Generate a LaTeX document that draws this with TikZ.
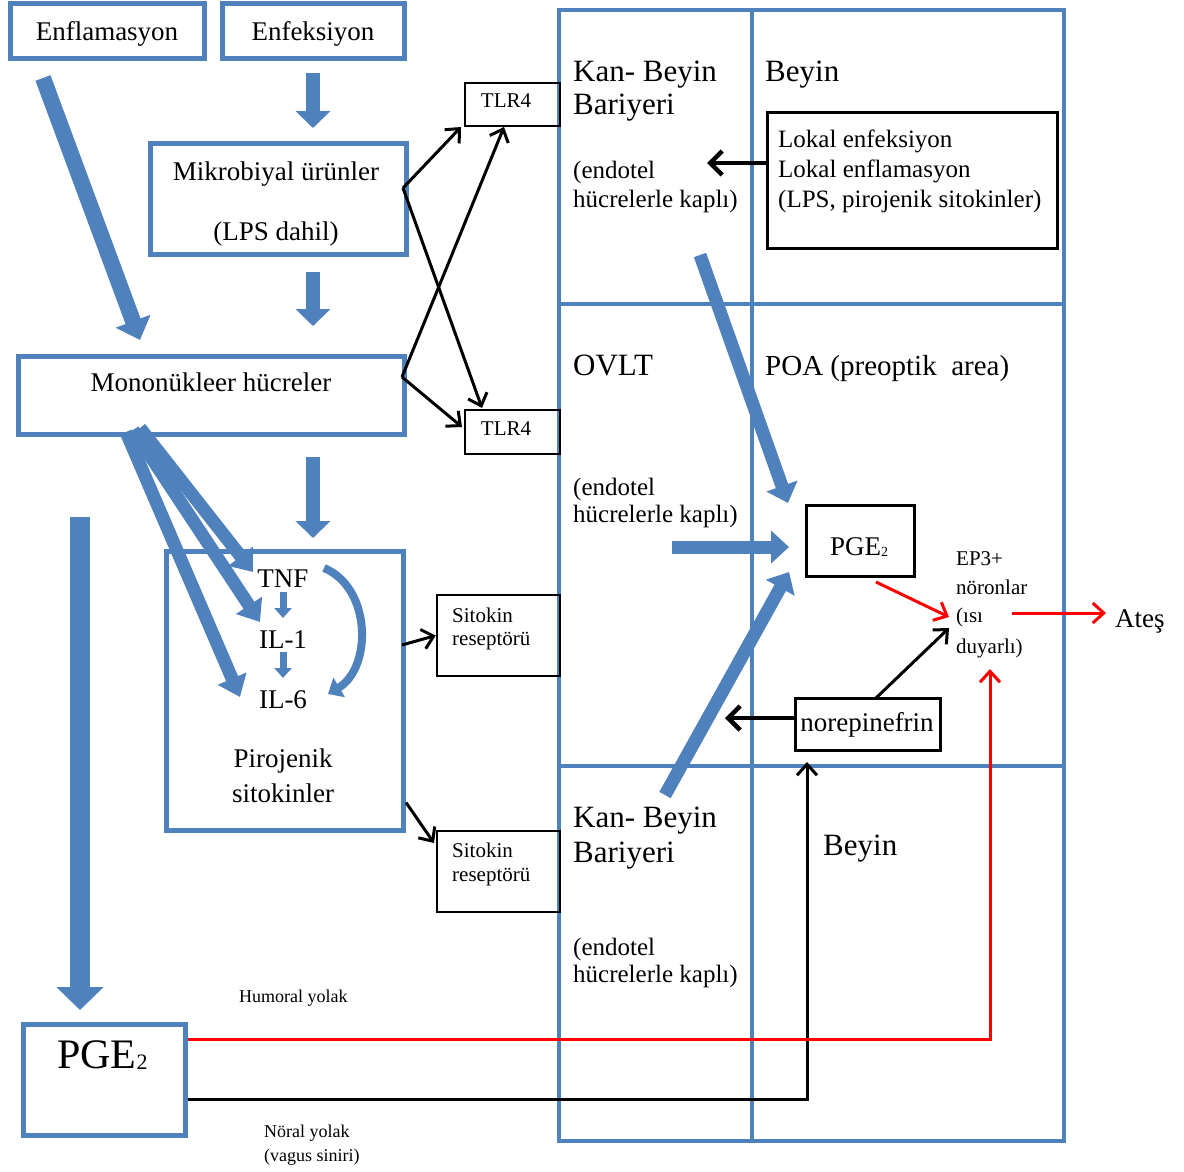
\documentclass[tikz,border=0pt]{standalone}
\usepackage{fontspec}
\setmainfont{Liberation Serif}
\usetikzlibrary{arrows.meta}
\definecolor{wblue}{HTML}{4F81BD}
\definecolor{wred}{HTML}{FF0000}
\newcommand\fsBig{\fontsize{31}{36}\selectfont}
\newcommand\fsPoa{\fontsize{29}{34}\selectfont}
\newcommand\fsM{\fontsize{27}{32}\selectfont}
\newcommand\fsS{\fontsize{25}{30}\selectfont}
\newcommand\fsT{\fontsize{21}{25}\selectfont}
\newcommand\fsX{\fontsize{18}{22}\selectfont}
\newcommand\fsHuge{\fontsize{42}{48}\selectfont}
\newcommand\subtwo[1]{\raisebox{-1pt}{\fontsize{#1}{#1}\selectfont 2}}
\begin{document}
\begin{tikzpicture}[x=1pt,y=-1pt,
  bluebox/.style={draw=wblue, line width=5pt, inner sep=0pt},
  blackbox/.style={draw=black, line width=2.5pt, inner sep=0pt},
  txt/.style={inner sep=0pt, anchor=base},
  ltxt/.style={inner sep=0pt, anchor=base west},
  bigarrow/.style={draw=wblue, line width=15pt, -{Triangle[length=20pt,width=36pt]}},
  gridarrow/.style={draw=wblue, line width=13pt, -{Triangle[length=18pt,width=32pt]}},
  midarrow/.style={draw=wblue, line width=13pt, -{Triangle[length=20pt,width=30pt]}},
  tinyarrow/.style={draw=wblue, line width=7pt, -{Triangle[length=10pt,width=17pt]}},
  longarrow/.style={draw=wblue, line width=20pt, -{Triangle[length=23pt,width=46pt]}},
  blk/.style={draw=black, line width=3pt, -{Straight Barb[length=11pt,width=20pt]}},
  blkthick/.style={draw=black, line width=4.5pt, -{Straight Barb[length=12pt,width=24pt]}},
  redarr/.style={draw=wred, line width=3pt, -{Straight Barb[length=11pt,width=20pt]}}
]
\useasboundingbox (0,0) rectangle (1184,1171);
\fill[white] (0,0) rectangle (1184,1171);

% ---------- grid ----------
\draw[wblue, line width=4pt] (559,10) rectangle (1064,1141);
\draw[wblue, line width=4pt] (752,10) -- (752,1141);
\draw[wblue, line width=4pt] (559,304) -- (1064,304);
\draw[wblue, line width=4pt] (559,766) -- (1064,766);

% ---------- blue boxes ----------
\node[bluebox, minimum width=194pt, minimum height=55pt] (enfl) at (107,30.5) {};
\node[txt, font=\fsM] (enflt) at (107,40) {Enflamasyon};
\node[bluebox, minimum width=182pt, minimum height=55pt] (enfk) at (313,30.5) {};
\node[txt, font=\fsM] (enfkt) at (313,40) {Enfeksiyon};
\node[bluebox, minimum width=256pt, minimum height=111pt] (mik) at (278,198.5) {};
\node[txt, font=\fsM] (mikt1) at (276,180) {Mikrobiyal ürünler};
\node[txt, font=\fsM] (mikt2) at (276,240) {(LPS dahil)};
\node[bluebox, minimum width=386pt, minimum height=78pt] (mono) at (211,395) {};
\node[txt, font=\fsM] (monot) at (211,391) {Mononükleer hücreler};
\node[bluebox, minimum width=237pt, minimum height=279pt] (piro) at (285,690.5) {};
\node[txt, font=\fsM] (tnf) at (283,587) {TNF};
\node[txt, font=\fsM] (il1) at (283,648) {IL-1};
\node[txt, font=\fsM] (il6) at (283,708) {IL-6};
\node[txt, font=\fsM] (pirot1) at (283,767) {Pirojenik};
\node[txt, font=\fsM] (pirot2) at (283,802) {sitokinler};
\node[bluebox, minimum width=162pt, minimum height=111pt] (pgeL) at (104.5,1079.5) {};
\node[ltxt, font=\fsHuge] (pgeLt) at (57,1068) {PGE\subtwo{22}};

% ---------- black boxes ----------
\node[blackbox, minimum width=95pt, minimum height=43pt] (tlrA) at (512.5,104.5) {};
\node[txt, font=\fsT] (tlrAt) at (506,107) {TLR4};
\node[blackbox, minimum width=95pt, minimum height=44pt] (tlrB) at (512.5,432) {};
\node[txt, font=\fsT] (tlrBt) at (506,435) {TLR4};
\node[blackbox, minimum width=123pt, minimum height=81pt] (sitA) at (498.5,635.5) {};
\node[ltxt, font=\fsT] (sitAt1) at (452,622) {Sitokin};
\node[ltxt, font=\fsT] (sitAt2) at (452,645) {reseptörü};
\node[blackbox, minimum width=123pt, minimum height=81pt] (sitB) at (498.5,871.5) {};
\node[ltxt, font=\fsT] (sitBt1) at (452,857) {Sitokin};
\node[ltxt, font=\fsT] (sitBt2) at (452,881) {reseptörü};
\node[blackbox, line width=3pt, minimum width=290pt, minimum height=136pt] (lokal) at (912,180) {};
\node[ltxt, font=\fsS] (lok1) at (778,147) {Lokal enfeksiyon};
\node[ltxt, font=\fsS] (lok2) at (778,177) {Lokal enflamasyon};
\node[ltxt, font=\fsS] (lok3) at (778,207) {(LPS, pirojenik sitokinler)};
\node[blackbox, line width=3pt, minimum width=108pt, minimum height=71pt] (pgeC) at (860,541) {};
\node[txt, font=\fsM] (pgeCt) at (859,555) {PGE\subtwo{14}};
\node[blackbox, line width=3pt, minimum width=145pt, minimum height=52pt] (nore) at (867.5,724) {};
\node[txt, font=\fsM] (noret) at (867,731) {norepinefrin};

% ---------- grid texts ----------
\node[ltxt, font=\fsBig] (kb1a) at (573,81) {Kan- Beyin};
\node[ltxt, font=\fsBig] (kb1b) at (573,114) {Bariyeri};
\node[ltxt, font=\fsS] (kb1c) at (573,178) {(endotel};
\node[ltxt, font=\fsS] (kb1d) at (573,207) {hücrelerle kaplı)};
\node[ltxt, font=\fsBig] (beyin1) at (765,81) {Beyin};
\node[ltxt, font=\fsBig] (ovlt) at (573,375) {OVLT};
\node[ltxt, font=\fsPoa] (poa) at (765,375) {POA (preoptik \ area)};
\node[ltxt, font=\fsS] (ov1) at (573,495) {(endotel};
\node[ltxt, font=\fsS] (ov2) at (573,522) {hücrelerle kaplı)};
\node[ltxt, font=\fsT] (ep1) at (956,565) {EP3+};
\node[ltxt, font=\fsT] (ep2) at (956,594) {nöronlar};
\node[ltxt, font=\fsT] (ep3) at (956,622) {(ısı};
\node[ltxt, font=\fsT] (ep4) at (956,653) {duyarlı)};
\node[ltxt, font=\fsM] (ates) at (1115,627) {Ateş};
\node[ltxt, font=\fsBig] (kb2a) at (573,827) {Kan- Beyin};
\node[ltxt, font=\fsBig] (kb2b) at (573,862) {Bariyeri};
\node[ltxt, font=\fsS] (kb2c) at (573,955) {(endotel};
\node[ltxt, font=\fsS] (kb2d) at (573,982) {hücrelerle kaplı)};
\node[ltxt, font=\fsBig] (beyin2) at (823,855) {Beyin};

% ---------- path labels ----------
\node[ltxt, font=\fsX] (humoral) at (239,1002) {Humoral yolak};
\node[ltxt, font=\fsX] (noral1) at (264,1137) {Nöral yolak};
\node[ltxt, font=\fsX] (noral2) at (264,1161) {(vagus siniri)};

% ---------- coordinates ----------
\coordinate (enflA) at (43,78);
\coordinate (enflB) at (140,340);
\coordinate (enfkA) at (313,73);
\coordinate (enfkB) at (313,128);
\coordinate (mikA) at (313,272);
\coordinate (mikB) at (313,326);
\coordinate (monoA) at (313,457);
\coordinate (monoB) at (313,538);
\coordinate (longA) at (80,517);
\coordinate (longB) at (80,1010);
\coordinate (d1A) at (140,428);
\coordinate (d1B) at (253,572);
\coordinate (d2A) at (133,430);
\coordinate (d2B) at (260,622);
\coordinate (d3A) at (126,432);
\coordinate (d3B) at (240,697);
\coordinate (kbA) at (700,255);
\coordinate (kbB) at (788,503);
\coordinate (ovA) at (672,547);
\coordinate (ovB) at (789,547);
\coordinate (kb2A) at (665,795);
\coordinate (kb2B) at (789,572);
\coordinate (mikv) at (403,188);
\coordinate (monov) at (402,377);
\coordinate (tlrAin1) at (461,127);
\coordinate (tlrAin2) at (504,127);
\coordinate (tlrBin1) at (482,408);
\coordinate (tlrBin2) at (462,427);
\coordinate (lokTip) at (707,163);
\coordinate (noreTip) at (725,718);
\coordinate (epIn1) at (949,617);
\coordinate (epIn2) at (949,628);
\coordinate (epOut) at (1012,613);
\coordinate (atesIn) at (1106,613);
\coordinate (redUp) at (990,669);
\coordinate (blkUp) at (807,762);

% ---------- blue thick arrows ----------
\draw[bigarrow, line width=16pt] (enflA) -- (enflB);
\draw[bigarrow, line width=14pt, -{Triangle[length=17pt,width=34pt]}] (enfkA) -- (enfkB);
\draw[bigarrow, line width=14pt, -{Triangle[length=17pt,width=34pt]}] (mikA) -- (mikB);
\draw[bigarrow, line width=14pt, -{Triangle[length=17pt,width=34pt]}] (monoA) -- (monoB);
\draw[longarrow] (longA) -- (longB);
\draw[midarrow] (d1A) -- (d1B);
\draw[midarrow] (d2A) -- (d2B);
\draw[midarrow] (d3A) -- (d3B);
\draw[tinyarrow] (283,592) -- (283,618);
\draw[tinyarrow] (283,652) -- (283,678);
\draw[draw=wblue, line width=8pt, -{Triangle[length=13pt,width=22pt]}]
  (324,568) .. controls (372,588) and (372,668) .. (328,694);
\draw[gridarrow] (kbA) -- (kbB);
\draw[gridarrow] (ovA) -- (ovB);
\draw[gridarrow] (kb2A) -- (kb2B);

% ---------- black arrows ----------
\draw[blk] (mikv) -- (tlrAin1);
\draw[blk] (mikv) -- (tlrBin1);
\draw[blk] (monov) -- (tlrAin2);
\draw[blk] (monov) -- (tlrBin2);
\draw[blk] (402,645) -- (sitA.west);
\draw[blk] (piro.south east) ++(0,-30) coordinate (piroC) -- (434,843);
\draw[blkthick] (lokal.west |- lokTip) -- (lokTip);
\draw[blkthick] (nore.west |- noreTip) -- (noreTip);
\draw[blk] (876,698) -- (epIn2);
\draw[blk] (pgeL.east |- 0,1099) -- (807,1099) -- (blkUp);

% ---------- red arrows ----------
\draw[redarr] (876,582) -- (epIn1);
\draw[redarr] (epOut) -- (atesIn);
\draw[redarr] (pgeL.east |- 0,1039) -- (990,1039) -- (redUp);
\end{tikzpicture}
\end{document}
